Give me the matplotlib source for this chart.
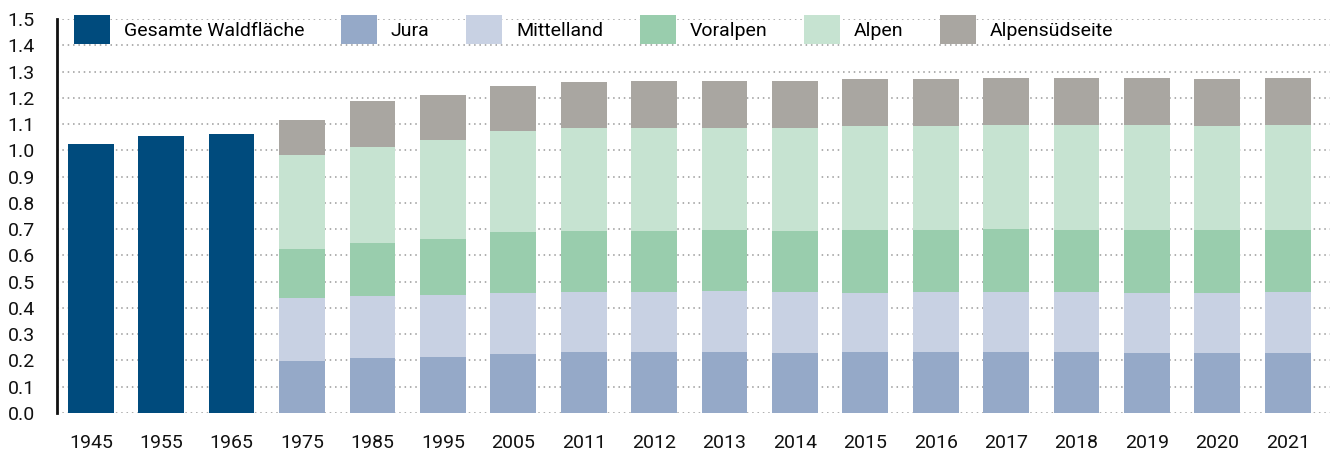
import matplotlib.pyplot as plt
import numpy as np

plt.rcParams["font.family"] = ["Roboto", "DejaVu Sans"]

years = ["1945", "1955", "1965", "1975", "1985", "1995", "2005", "2011", "2012",
         "2013", "2014", "2015", "2016", "2017", "2018", "2019", "2020", "2021"]

# Gesamte Waldfläche only for the first three surveys
total_years = years[:3]
total = [1.024, 1.054, 1.062]

# regional breakdown from 1975 on
region_years = years[3:]
jura = [0.198, 0.209, 0.213, 0.225, 0.232, 0.232, 0.232, 0.228, 0.232, 0.232,
        0.232, 0.232, 0.228, 0.228, 0.228]
mittelland = [0.240, 0.236, 0.236, 0.232, 0.229, 0.229, 0.232, 0.233, 0.225, 0.229,
              0.229, 0.229, 0.229, 0.229, 0.233]
voralpen = [0.186, 0.202, 0.213, 0.232, 0.232, 0.232, 0.233, 0.232, 0.240, 0.236,
            0.239, 0.236, 0.240, 0.240, 0.236]
alpen = [0.358, 0.366, 0.377, 0.384, 0.392, 0.392, 0.388, 0.392, 0.395, 0.395,
         0.396, 0.399, 0.399, 0.395, 0.399]
suedseite = [0.133, 0.175, 0.171, 0.172, 0.175, 0.179, 0.179, 0.179, 0.179, 0.179,
             0.179, 0.179, 0.179, 0.179, 0.179]

regions = [
    ("Jura", jura, "#95a9c8"),
    ("Mittelland", mittelland, "#c8d1e3"),
    ("Voralpen", voralpen, "#99cdad"),
    ("Alpen", alpen, "#c6e3d1"),
    ("Alpensüdseite", suedseite, "#a9a6a1"),
]

fig = plt.figure(figsize=(13.33, 4.5), dpi=100)
ax = fig.add_axes([57 / 1333, 1 - 413 / 450, 1273 / 1333, 394 / 450])

x = np.arange(len(years))
width = 0.65

ax.bar(x[:3], total, width=width, color="#004b7d", label="Gesamte Waldfläche", zorder=2)

bottom = np.zeros(len(region_years))
for name, vals, color in regions:
    vals = np.array(vals)
    ax.bar(x[3:], vals, width=width, bottom=bottom, color=color, label=name, zorder=2)
    bottom += vals

ax.set_xlim(-0.48, 17.6)
ax.set_ylim(0, 1.5)
ax.set_yticks(np.round(np.arange(0, 1.51, 0.1), 1))
ax.set_yticklabels([f"{v:.1f}" for v in np.arange(0, 1.51, 0.1)])
ax.set_xticks(x)
ax.set_xticklabels(years)
ax.tick_params(axis="both", length=0, labelsize=14, colors="#111111")
ax.tick_params(axis="y", pad=16)
ax.tick_params(axis="x", pad=15)

ax.grid(axis="y", linestyle=(0, (1, 2.5)), color="#999999", linewidth=1.1, zorder=0)
for side in ["top", "right", "bottom"]:
    ax.spines[side].set_visible(False)
ax.spines["left"].set_linewidth(2)
ax.spines["left"].set_color("#111111")

fig.legend(
    loc="upper left",
    bbox_to_anchor=(74 / 1333, 1 - 15 / 450),
    bbox_transform=fig.transFigure,
    ncol=6,
    frameon=False,
    fontsize=14,
    borderpad=0,
    borderaxespad=0,
    handlelength=1.85,
    handleheight=1.95,
    handletextpad=0.7,
    columnspacing=1.9,
)

fig.savefig("out.png", dpi=100)
